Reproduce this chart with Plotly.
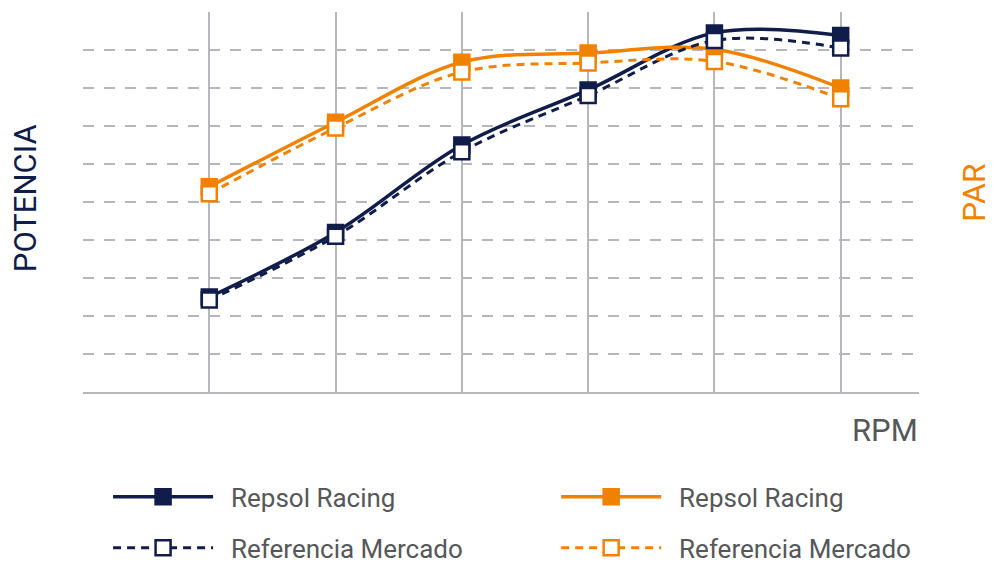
import plotly.graph_objects as go

rpm = [1, 2, 3, 4, 5, 6]
potencia_repsol = [2.5, 4.2, 6.5, 7.95, 9.45, 9.38]
potencia_ref = [2.42, 4.1, 6.32, 7.8, 9.25, 9.05]
par_repsol = [5.4, 7.1, 8.68, 8.92, 9.02, 8.0]
par_ref = [5.22, 6.95, 8.42, 8.66, 8.7, 7.72]

NAVY = "#101c4a"
ORANGE = "#f18200"
GRID = "#b5b7ba"
TEXT = "#555759"
FONT = "Roboto"
PAD = "\u00a0\u00a0"

fig = go.Figure()

def add(y, name, color, dashed, legend):
    fig.add_trace(go.Scatter(
        x=rpm, y=y, name=PAD + name, mode="lines+markers",
        line=dict(color=color, width=3.5 if not dashed else 3, shape="spline", smoothing=1,
                  dash="8px,6px" if dashed else "solid"),
        marker=dict(symbol="square", size=15,
                    color="white" if dashed else color,
                    line=dict(color=color, width=2.5)),
        legend=legend, showlegend=True,
    ))

add(potencia_repsol, "Repsol Racing", NAVY, False, "legend")
add(par_repsol, "Repsol Racing", ORANGE, False, "legend2")
add(potencia_ref, "Referencia Mercado", NAVY, True, "legend3")
add(par_ref, "Referencia Mercado", ORANGE, True, "legend4")

legend_common = dict(orientation="h", xanchor="left", yanchor="middle",
                     itemwidth=100, visible=True,
                     font=dict(family=FONT, size=26, color=TEXT),
                     bgcolor="rgba(0,0,0,0)")

fig.update_layout(
    width=985, height=555,
    showlegend=True,
    margin=dict(l=75, r=74, t=4, b=171, autoexpand=False),
    plot_bgcolor="white", paper_bgcolor="white",
    font=dict(family=FONT),
    xaxis=dict(range=[0, 6.62], tickvals=rpm, showticklabels=False,
               showgrid=True, gridcolor=GRID, gridwidth=2,
               showline=True, linecolor=GRID, linewidth=2,
               zeroline=False, fixedrange=True),
    yaxis=dict(range=[0, 10], tickvals=[1, 2, 3, 4, 5, 6, 7, 8, 9], showticklabels=False,
               showgrid=True, gridcolor=GRID, gridwidth=2, griddash="11px,10px",
               zeroline=False, showline=False, fixedrange=True),
    legend=dict(x=0.030, y=-0.276, **legend_common),
    legend2=dict(x=0.566, y=-0.276, **legend_common),
    legend3=dict(x=0.030, y=-0.41, **legend_common),
    legend4=dict(x=0.566, y=-0.41, **legend_common),
    annotations=[
        dict(text="POTENCIA", xref="paper", yref="paper", x=-0.0694, y=0.51,
             xanchor="center", yanchor="middle",
             textangle=-90, showarrow=False, font=dict(family=FONT, size=31, color=NAVY)),
        dict(text="PAR", xref="paper", yref="paper", x=1.066, y=0.524,
             xanchor="center", yanchor="middle",
             textangle=-90, showarrow=False, font=dict(family=FONT, size=32, color=ORANGE)),
        dict(text="RPM", xref="paper", yref="paper", x=0.959, y=-0.1,
             xanchor="center", yanchor="middle",
             showarrow=False, font=dict(family=FONT, size=31, color=TEXT)),
    ],
)

fig.write_html("out.html")
